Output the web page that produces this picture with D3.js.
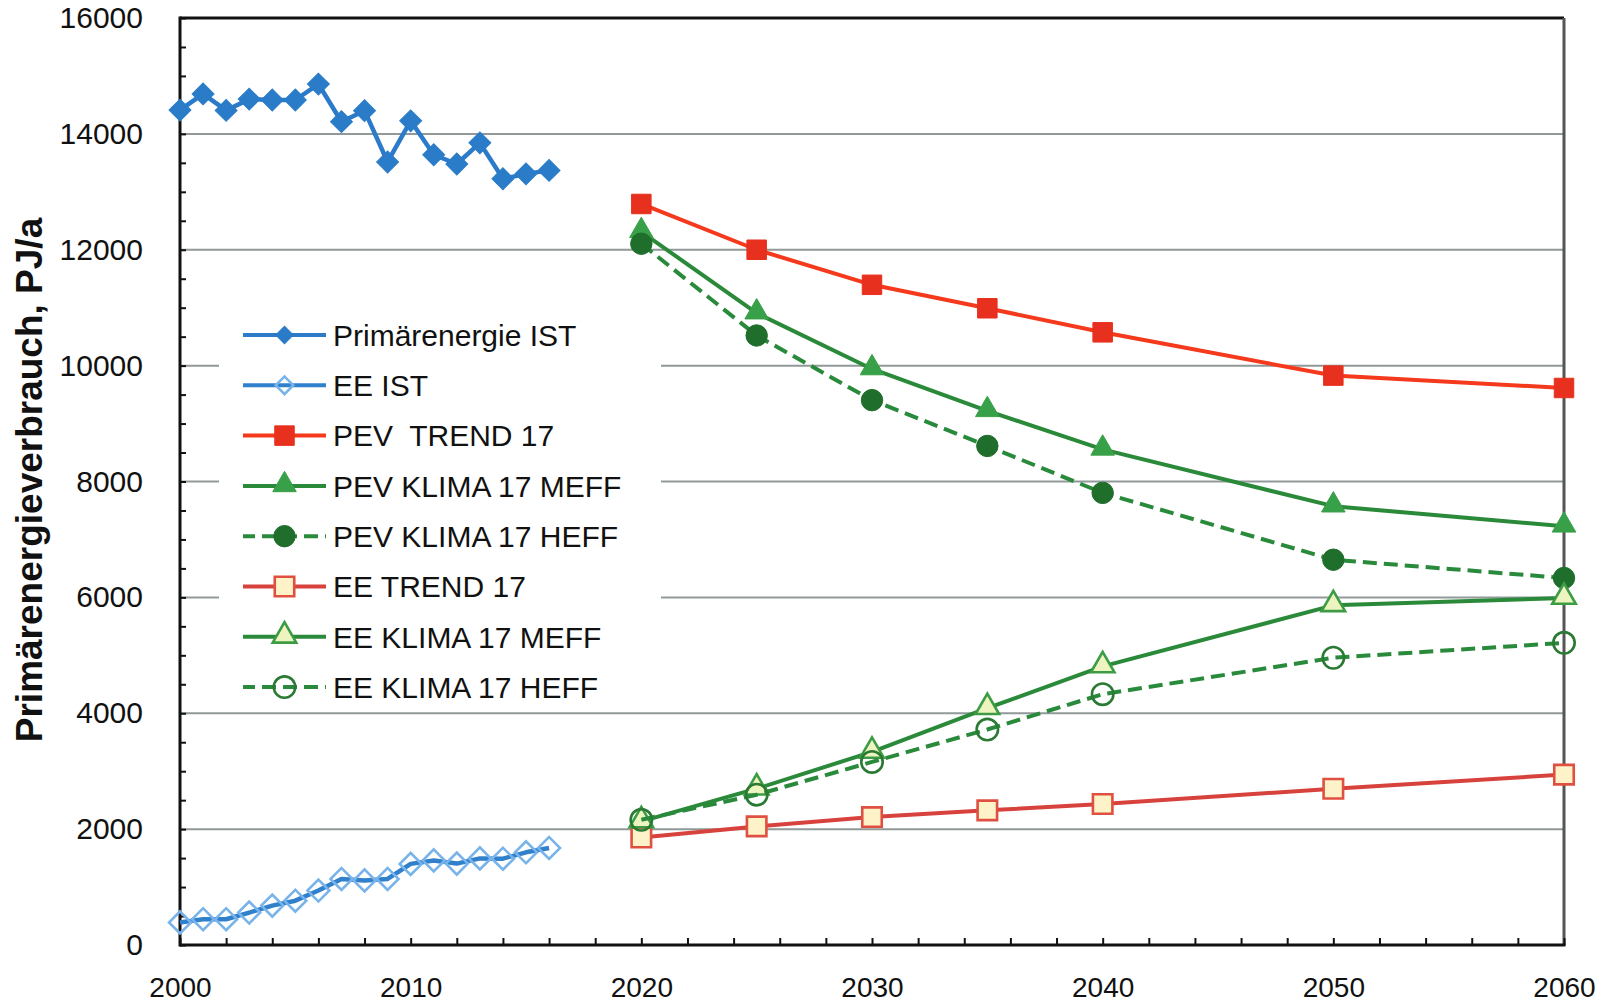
<!DOCTYPE html>
<html>
<head>
<meta charset="utf-8">
<script src="https://cdn.jsdelivr.net/npm/d3@7"></script>
<style>
  html, body { margin: 0; padding: 0; background: #fff; }
  svg { display: block; font-family: "Liberation Sans", Arial, sans-serif; }
  .lg-text { white-space: pre; }
</style>
</head>
<body>
<div id="chart"></div>
<script>
// historic years + values
const YEARS_IST = d3.range(2000, 2017);
const PRIMAER_IST = [14410, 14690, 14405, 14600, 14585, 14585, 14860, 14210, 14400, 13515,
                     14225, 13640, 13480, 13845, 13225, 13310, 13370];
const EE_IST = [390, 445, 445, 560, 680, 765, 940, 1140, 1115, 1140,
                1400, 1460, 1405, 1495, 1490, 1600, 1675];

// scenario years + values
const YEARS_SZ = [2020, 2025, 2030, 2035, 2040, 2050, 2060];
const PEV_TREND   = [12790, 12000, 11395, 10990, 10575, 9828, 9614];
const PEV_MEFF    = [12310, 10906, 9942, 9220, 8555, 7574, 7227];
const PEV_HEFF    = [12104, 10520, 9404, 8614, 7804, 6650, 6334];
const EE_TREND    = [1856, 2047, 2208, 2324, 2433, 2698, 2941];
const EE_MEFF     = [2133, 2698, 3333, 4087, 4808, 5862, 5990];
const EE_HEFF     = [2161, 2594, 3160, 3719, 4329, 4958, 5215];

const Y_TICKS = [0, 2000, 4000, 6000, 8000, 10000, 12000, 14000, 16000];
const X_TICKS = [2000, 2010, 2020, 2030, 2040, 2050, 2060];
const Y_TITLE = "Primärenergieverbrauch, PJ/a";

const SERIES = [
  { name: "Primärenergie IST", years: YEARS_IST, values: PRIMAER_IST, line: "#2b7bca", dash: null,
    shape: "diamond", fill: "#2a7cc8", stroke: "#2a7cc8", lw: 4.5 },
  { name: "EE IST", years: YEARS_IST, values: EE_IST, line: "#3080cc", dash: null,
    shape: "diamond", fill: "none", stroke: "#78b3ea", lw: 4.5 },
  { name: "PEV  TREND 17", years: YEARS_SZ, values: PEV_TREND, line: "#f5391c", dash: null,
    shape: "square", fill: "#e8301e", stroke: "#e8301e", lw: 4 },
  { name: "PEV KLIMA 17 MEFF", years: YEARS_SZ, values: PEV_MEFF, line: "#2b8a3a", dash: null,
    shape: "triangle", fill: "#38a048", stroke: "#38a048", lw: 4 },
  { name: "PEV KLIMA 17 HEFF", years: YEARS_SZ, values: PEV_HEFF, line: "#2a8a3c", dash: "14,7",
    shape: "circle", fill: "#1f6e2c", stroke: "#1f6e2c", lw: 4 },
  { name: "EE TREND 17", years: YEARS_SZ, values: EE_TREND, line: "#d8423c", dash: null,
    shape: "square", fill: "#fdf2c8", stroke: "#e05040", lw: 4 },
  { name: "EE KLIMA 17 MEFF", years: YEARS_SZ, values: EE_MEFF, line: "#2b8a3a", dash: null,
    shape: "triangle", fill: "#eef4c0", stroke: "#3c9c44", lw: 4 },
  { name: "EE KLIMA 17 HEFF", years: YEARS_SZ, values: EE_HEFF, line: "#2a8a3c", dash: "14,7",
    shape: "circle", fill: "none", stroke: "#2a7a34", lw: 4 }
];

const width = 1606, height = 1002;
const m = { top: 18, right: 42, bottom: 57, left: 180 };

const svg = d3.select("#chart").append("svg")
  .attr("width", width).attr("height", height)
  .attr("viewBox", [0, 0, width, height]);

const x = d3.scaleLinear().domain([2000, 2060]).range([m.left, width - m.right]);
const y = d3.scaleLinear().domain([0, 16000]).range([height - m.bottom, m.top]);

// horizontal grid
svg.append("g")
  .selectAll("line")
  .data(Y_TICKS.filter(v => v > 0 && v < 16000))
  .join("line")
  .attr("x1", m.left).attr("x2", width - m.right)
  .attr("y1", d => y(d)).attr("y2", d => y(d))
  .attr("stroke", "#919999").attr("stroke-width", 2);

// legend background hides grid behind it
svg.append("rect")
  .attr("x", 219).attr("y", 300).attr("width", 442).attr("height", 400)
  .attr("fill", "#fff");

// frame: top + right
svg.append("line")
  .attr("x1", m.left).attr("x2", width - m.right)
  .attr("y1", y(16000)).attr("y2", y(16000))
  .attr("stroke", "#111").attr("stroke-width", 3);
svg.append("line")
  .attr("x1", width - m.right).attr("x2", width - m.right)
  .attr("y1", y(16000)).attr("y2", y(0))
  .attr("stroke", "#555").attr("stroke-width", 3);

// y axis labels
const yAxis = svg.append("g")
  .attr("transform", `translate(${m.left},0)`)
  .call(d3.axisLeft(y).tickValues(Y_TICKS).tickSize(0).tickPadding(37).tickFormat(d3.format("d")));
yAxis.select(".domain").remove();
yAxis.selectAll("text").attr("font-size", 30).attr("fill", "#111")
  .attr("font-family", "Liberation Sans, Arial, sans-serif");

// y minor ticks (inside)
const yMinor = svg.append("g")
  .attr("transform", `translate(${m.left},0)`)
  .call(d3.axisRight(y).tickValues(d3.range(0, 16001, 500)).tickSize(6).tickFormat(""));
yMinor.select(".domain").remove();
yMinor.selectAll(".tick line").attr("stroke", "#111").attr("stroke-width", 2);

// x axis labels
const xAxis = svg.append("g")
  .attr("transform", `translate(0,${y(0)})`)
  .call(d3.axisBottom(x).tickValues(X_TICKS).tickSize(0).tickPadding(32).tickFormat(d3.format("d")));
xAxis.select(".domain").remove();
xAxis.selectAll("text").attr("font-size", 28).attr("fill", "#111")
  .attr("font-family", "Liberation Sans, Arial, sans-serif");

// x minor ticks (inside, every 2 years)
const xMinor = svg.append("g")
  .attr("transform", `translate(0,${y(0)})`)
  .call(d3.axisTop(x).tickValues(d3.range(2000, 2061, 2)).tickSize(7).tickFormat(""));
xMinor.select(".domain").remove();
xMinor.selectAll(".tick line").attr("stroke", "#111").attr("stroke-width", 2);

// left + bottom axis lines
svg.append("line")
  .attr("x1", m.left).attr("x2", m.left)
  .attr("y1", y(16000) - 1.5).attr("y2", y(0) + 1.5)
  .attr("stroke", "#111").attr("stroke-width", 3);
svg.append("line")
  .attr("x1", m.left).attr("x2", width - m.right + 1.5)
  .attr("y1", y(0)).attr("y2", y(0))
  .attr("stroke", "#111").attr("stroke-width", 3);

// y title
svg.append("text")
  .attr("transform", `translate(42,${480}) rotate(-90)`)
  .attr("text-anchor", "middle")
  .attr("font-size", 37).attr("font-weight", 700).attr("fill", "#111")
  .text(Y_TITLE);

function symbolPath(shape) {
  if (shape === "diamond") return d3.symbol(d3.symbolSquare, 240)();
  if (shape === "square") return d3.symbol(d3.symbolSquare, 380)();
  if (shape === "triangle") return d3.symbol(d3.symbolTriangle, 240)();
  return d3.symbol(d3.symbolCircle, 360)();
}

function drawMarker(g, s, cx, cy, scale) {
  const k = scale || 1;
  const rot = s.shape === "diamond" ? " rotate(45)" : "";
  const dy = s.shape === "triangle" ? -1 : 0;
  g.append("path")
    .attr("d", symbolPath(s.shape))
    .attr("transform", `translate(${cx},${cy + dy}) scale(${k})${rot}`)
    .attr("fill", s.fill)
    .attr("stroke", s.stroke)
    .attr("stroke-width", (s.fill === s.stroke ? 1 : 2.6) / k);
}

const line = d3.line().x(d => x(d[0])).y(d => y(d[1]));
const plot = svg.append("g");

SERIES.forEach(s => {
  const pts = s.years.map((yr, i) => [yr, s.values[i]]);
  plot.append("path")
    .datum(pts)
    .attr("fill", "none")
    .attr("stroke", s.line)
    .attr("stroke-width", s.lw)
    .attr("stroke-linejoin", "round")
    .attr("stroke-dasharray", s.dash)
    .attr("d", line);
  pts.forEach(p => drawMarker(plot, s, x(p[0]), y(p[1])));
});

// legend
const lg = svg.append("g");
SERIES.forEach((s, i) => {
  const cy = 335 + i * 50.3;
  lg.append("line")
    .attr("x1", 243).attr("x2", 326).attr("y1", cy).attr("y2", cy)
    .attr("stroke", s.line).attr("stroke-width", 4)
    .attr("stroke-dasharray", s.dash ? "14,7" : null)
    .attr("stroke-dashoffset", s.dash ? 2 : null);
  drawMarker(lg, s, 284.5, cy, s.shape === "diamond" ? 0.8 : 1);
  lg.append("text")
    .attr("class", "lg-text")
    .attr("x", 333).attr("y", cy)
    .attr("dy", "0.36em")
    .attr("font-size", 30).attr("fill", "#111")
    .text(s.name);
});
</script>
</body>
</html>
